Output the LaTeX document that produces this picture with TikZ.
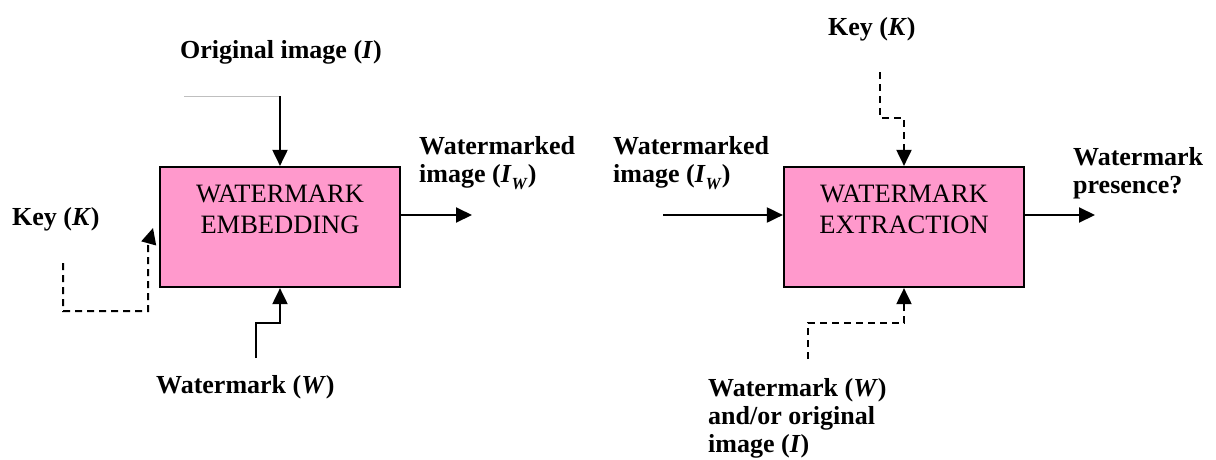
\documentclass[tikz,border=0pt]{standalone}
\usepackage{fontspec}
\setmainfont{Liberation Serif}
\usetikzlibrary{arrows.meta}
\definecolor{boxpink}{RGB}{255,153,204}
\tikzset{
  box/.style={draw=black, line width=2.2pt, fill=boxpink, minimum width=240pt, minimum height=120pt, inner sep=0pt},
  boxtext/.style={font=\fontsize{26.5}{31}\selectfont, inner sep=0pt, anchor=base},
  lbl/.style={font=\fontsize{26}{28}\selectfont\bfseries, inner sep=0pt, anchor=base west},
  arr/.style={line width=2pt, -{Triangle[length=16pt,width=15pt]}},
  darr/.style={line width=2pt, dash pattern=on 7pt off 5pt, -{Triangle[length=16pt,width=15pt]}},
}
\newcommand{\IW}{\textit{I}\raisebox{-0.28em}{\fontsize{17}{17}\selectfont\textit{W}}}
\begin{document}
\begin{tikzpicture}[x=1pt,y=-1pt]
\useasboundingbox (0,0) rectangle (1216,459);
% ---------- left: embedding ----------
\node[box] (emb) at (280,227) {};
\node[boxtext] (embt) at (280,202) {\begin{tabular}[t]{@{}c@{}}WATERMARK\\EMBEDDING\end{tabular}};
\node[lbl] (orig) at (180,58) {Original image (\textit{I})};
\node[lbl] (keyl) at (12,225) {Key (\textit{K})};
\node[lbl] (wml) at (156,393) {Watermark (\textit{W})};
\node[lbl] (iwl) at (419,154) {\begin{tabular}[t]{@{}l@{}}Watermarked\\image (\IW)\end{tabular}};
\coordinate (g1) at (184,96);
\coordinate (oi) at (280,96);
\coordinate (embout) at (472,215);
\coordinate (k1) at (63,263);
\coordinate (k2) at (148,311);
\coordinate (k3) at (148,246);
\coordinate (k4) at (153,228);
\coordinate (w1) at (256,358);
\coordinate (w2) at (256,323);
\draw[gray!50, line width=1pt] (g1) -- (oi);
\draw[arr] (oi) -- (emb.north);
\draw[arr] (emb.east |- embout) -- (embout);
\draw[darr] (k1) |- (k2) -- (k3) -- (k4);
\draw[arr] (w1) -- (w2) -| (emb.south);
% ---------- right: extraction ----------
\node[box] (ext) at (904,227) {};
\node[boxtext] (extt) at (904,202) {\begin{tabular}[t]{@{}c@{}}WATERMARK\\EXTRACTION\end{tabular}};
\node[lbl] (keyr) at (828,35) {Key (\textit{K})};
\node[lbl] (iwr) at (613,154) {\begin{tabular}[t]{@{}l@{}}Watermarked\\image (\IW)\end{tabular}};
\node[lbl] (pres) at (1073,165) {\begin{tabular}[t]{@{}l@{}}Watermark\\presence?\end{tabular}};
\node[lbl] (wmr) at (708,396) {\begin{tabular}[t]{@{}l@{}}Watermark (\textit{W})\\and/or original\\image (\textit{I})\end{tabular}};
\coordinate (in1) at (663,215);
\coordinate (out1) at (1095,215);
\coordinate (kr1) at (880,72);
\coordinate (kr2) at (880,118);
\coordinate (wr1) at (808,359);
\coordinate (wr2) at (808,323);
\draw[arr] (in1) -- (ext.west |- in1);
\draw[arr] (ext.east |- out1) -- (out1);
\draw[darr] (kr1) -- (kr2) -| (ext.north);
\draw[darr] (wr1) -- (wr2) -| (ext.south);
\end{tikzpicture}
\end{document}
